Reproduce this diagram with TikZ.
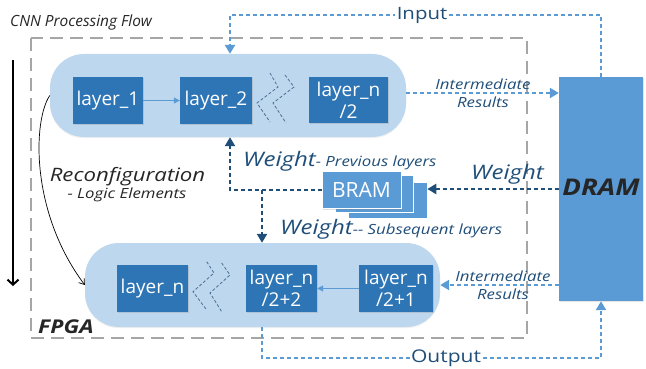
\documentclass[tikz,border=0pt]{standalone}
\usepackage{fontspec}
\setmainfont{Open Sans}
\newfontfamily\widesans{Open Sans}[FakeStretch=1.2]
\usetikzlibrary{arrows.meta,shadows}

\definecolor{pillblue}{HTML}{BDD7EE}
\definecolor{layerblue}{HTML}{2E75B6}
\definecolor{memblue}{HTML}{5B9BD5}
\definecolor{darkblue}{HTML}{1F4E79}
\definecolor{linkblue}{HTML}{5B9BD5}
\definecolor{zigblue}{HTML}{4A6F96}
\definecolor{fpgagray}{HTML}{A6A6A6}
\definecolor{inkgray}{HTML}{262626}

\tikzset{
  pill/.style={fill=pillblue, rounded corners=34pt, inner sep=0pt,
    drop shadow={opacity=0.12, shadow xshift=0pt, shadow yshift=-1.2pt}},
  layerbox/.style={fill=layerblue, text=white, inner sep=0pt, align=center,
    minimum height=47pt, font=\fontsize{19}{22}\selectfont,
    drop shadow={opacity=0.25, shadow xshift=1pt, shadow yshift=-1pt}},
  membox/.style={fill=memblue, draw=white, line width=0.6pt, inner sep=0pt,
    drop shadow={opacity=0.25, shadow xshift=1pt, shadow yshift=-1pt}},
  linkline/.style={draw=linkblue, line width=2.8pt, dash pattern=on 4pt off 3pt},
  weightline/.style={draw=darkblue, line width=2.9pt, dash pattern=on 4pt off 3pt},
  tip/.style={-{Triangle[length=9pt,width=10pt]}},
  innerlink/.style={draw=linkblue, line width=1pt, -{Triangle[length=6pt,width=6pt]}},
  zig/.style={draw=zigblue, line width=0.8pt, dash pattern=on 3pt off 2pt},
  bluelabel/.style={text=darkblue, inner sep=1pt},
  smallital/.style={text=darkblue, font=\widesans\fontsize{14}{18}\selectfont\itshape,
    align=center, inner sep=0pt},
}

\begin{document}
\begin{tikzpicture}[x=1pt,y=-1pt]
\useasboundingbox (0,0) rectangle (646,369);

% FPGA boundary
\draw[fpgagray, line width=2.8pt, dash pattern=on 13pt off 7pt] (31,38) rectangle (527,338);
\node[anchor=base west, font=\widesans\fontsize{19}{21}\selectfont\bfseries\itshape,
  text=inkgray, inner sep=0pt] (fpga) at (38,333) {FPGA};

% processing pipelines
\node[pill, minimum width=356pt, minimum height=83pt] (toppill) at (228,95.5) {};
\node[pill, minimum width=355pt, minimum height=84pt] (botpill) at (262.5,285) {};

\node[layerbox, minimum width=70pt] (l1) at (108,100.5) {layer\_1};
\node[layerbox, minimum width=72pt] (l2) at (216,100.5) {layer\_2};
\node[layerbox, minimum width=79pt, minimum height=46pt] (lhalf) at (348.5,100) {layer\_n\\/2};
\node[layerbox, minimum width=71pt] (ln) at (152.5,288.5) {layer\_n};
\node[layerbox, minimum width=71pt] (lh2) at (281.5,288.5) {layer\_n\\/2+2};
\node[layerbox, minimum width=74pt] (lh1) at (396,288.5) {layer\_n\\/2+1};

\draw[innerlink] (l1) -- (l2);
\draw[innerlink] (lh1) -- (lh2);

% skipped layers
\draw[zig] (270,73) -- (278,87) -- (257,103) -- (270,122);
\draw[zig] (285,75) -- (294,87) -- (273,103) -- (286,123);
\draw[zig] (206.7,261.7) -- (214,273) -- (193,291.7) -- (206.7,310);
\draw[zig] (221.7,263) -- (230,275) -- (210,293) -- (221.7,311.7);

% memories
\node[fill=memblue, inner sep=0pt, minimum width=84pt, minimum height=224pt,
  drop shadow={opacity=0.2, shadow xshift=1pt, shadow yshift=-1pt}] (dram) at (601,189) {};
\node[anchor=base, font=\widesans\fontsize{23}{25}\selectfont\bfseries\itshape,
  text=inkgray, inner sep=0pt] (dramlabel) at (601,195) {DRAM};

\node[membox, minimum width=79pt, minimum height=36pt] (bram3) at (387.5,200) {};
\node[membox, minimum width=78pt, minimum height=37pt] (bram2) at (374,193.5) {};
\node[membox, minimum width=79pt, minimum height=37pt, text=white,
  font=\fontsize{21}{23}\selectfont] (bram) at (361.5,190) {BRAM};

% weight transfers
\coordinate (wl) at (230,190);
\coordinate (wj) at (262,190);
\draw[weightline, tip] (dram.west |- 0,189) -- (bram3.east |- 0,189);
\draw[weightline, tip] (bram.west) -- (wl) -- (wl |- toppill.south);
\draw[weightline, tip] (wj) -- (wj |- botpill.north);

\node[bluelabel, anchor=base west, inner sep=0pt] (wprev) at (243,166)
  {\widesans\itshape\fontsize{20}{22}\selectfont Weight\fontsize{14}{16}\selectfont- Previous layers};
\node[bluelabel, anchor=base west, inner sep=0pt] (wsub) at (280,234)
  {\widesans\itshape\fontsize{20}{22}\selectfont Weight\fontsize{14}{16}\selectfont-- Subsequent layers};
\node[bluelabel, anchor=base west, inner sep=0pt,
  font=\widesans\fontsize{20}{22}\selectfont\itshape] (wdram) at (471,179) {Weight};

% input / output / intermediate results
\coordinate (inL) at (230,15);
\draw[linkline, tip] (dram.north) -- (dram.north |- inL) -- (inL) -- (inL |- toppill.north);
\node[bluelabel, fill=white, inner sep=1.5pt,
  font=\widesans\fontsize{17}{19}\selectfont] (inlabel) at (422,15) {Input};

\coordinate (outL) at (262,358);
\draw[linkline, tip] (botpill.south -| outL) -- (outL) -- (outL -| dram.south) -- (dram.south);
\node[bluelabel, fill=white, inner sep=1.5pt,
  font=\widesans\fontsize{17.5}{19}\selectfont] (outlabel) at (446,358) {Output};

\draw[linkline, tip] (toppill.east |- 0,93) -- (dram.west |- 0,93);
\node[smallital] (irtop) at (483,93) {Intermediate\\Results};
\draw[linkline, tip] (dram.west |- botpill.east) -- (botpill.east);
\node[smallital] (irbot) at (503,285) {Intermediate\\Results};

% processing flow and reconfiguration
\node[anchor=base west, font=\fontsize{15.4}{17}\selectfont\itshape, text=inkgray,
  inner sep=0pt] (flow) at (10,27) {CNN Processing Flow};
\coordinate (flowtop) at (13,60);
\coordinate (flowbot) at (13,286);
\draw[black, line width=2pt, -{Straight Barb[length=5pt,width=11pt]}] (flowtop) -- (flowbot);

\draw[black, line width=0.7pt, -{Straight Barb[length=5pt,width=7pt]}]
  (toppill.west) .. controls (33,120) and (30,212) .. (botpill.west);
\node[anchor=base, text=inkgray, font=\widesans\fontsize{18.5}{20}\selectfont\itshape,
  inner sep=0pt] (reconf) at (127.5,181) {Reconfiguration};
\node[anchor=base, text=inkgray, font=\widesans\fontsize{14}{16}\selectfont\itshape,
  inner sep=0pt] (logic) at (127,198) {- Logic Elements};
\end{tikzpicture}
\end{document}
